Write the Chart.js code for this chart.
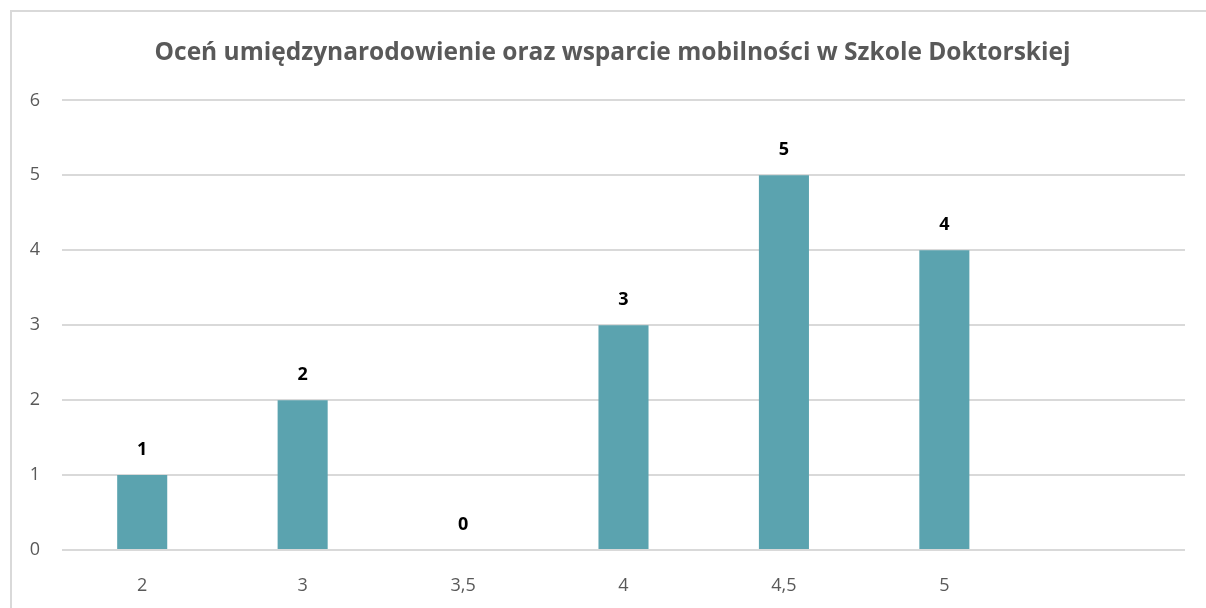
<!DOCTYPE html>
<html>
<head>
<meta charset="utf-8">
<script src="https://cdn.jsdelivr.net/npm/chart.js@4"></script>
<style>
  html, body { margin:0; padding:0; background:#fff; overflow:hidden; }
  .wrap { position:relative; width:1206px; height:608px; }
  .frame { position:absolute; left:10px; top:10px; width:1300px; height:700px; border-left:2px solid #d9d9d9; border-top:2px solid #d9d9d9; }
  canvas { position:absolute; left:0; top:0; }
</style>
</head>
<body>
<div class="wrap">
  <div class="frame"></div>
  <canvas id="chart" width="1206" height="608"></canvas>
</div>
<script>
const chartTitle = 'Oceń umiędzynarodowienie oraz wsparcie mobilności w Szkole Doktorskiej';
const categories = ['2', '3', '3,5', '4', '4,5', '5', ''];
const counts = [1, 2, 0, 3, 5, 4, null];
const yTicks = [0, 1, 2, 3, 4, 5, 6];

const barColor = '#5BA3AF';
const gray = '#595959';
const font = '"Open Sans", "DejaVu Sans", sans-serif';

// value labels above bars
const valueLabels = {
  id: 'valueLabels',
  afterDatasetsDraw(chart) {
    const ctx = chart.ctx;
    const meta = chart.getDatasetMeta(0);
    ctx.save();
    ctx.font = 'bold 18px ' + font;
    ctx.fillStyle = '#000';
    ctx.textAlign = 'center';
    ctx.textBaseline = 'middle';
    meta.data.forEach((bar, i) => {
      const v = counts[i];
      if (v === null || v === undefined) return;
      ctx.fillText(String(v), bar.x, bar.y - 25);
    });
    ctx.restore();
  }
};

// title sits a bit right of the canvas centre in the original
const titleShift = {
  id: 'titleShift',
  afterLayout(chart) {
    const t = chart.titleBlock;
    if (t) { t.left += 15; t.right += 15; }
  }
};

new Chart(document.getElementById('chart'), {
  type: 'bar',
  data: {
    labels: categories,
    datasets: [{ data: counts, backgroundColor: barColor, borderWidth: 0, categoryPercentage: 1, barPercentage: 0.312 }]
  },
  options: {
    responsive: false,
    animation: false,
    layout: { padding: { left: 10, right: 21, top: 0, bottom: 0 } },
    plugins: {
      legend: { display: false },
      tooltip: { enabled: false },
      title: {
        display: true,
        text: chartTitle,
        color: gray,
        font: { family: font, size: 24.5, weight: 'bold' },
        padding: { top: 38, bottom: 33 }
      }
    },
    scales: {
      x: {
        grid: { display: false },
        border: { display: false },
        ticks: { color: gray, font: { family: font, size: 18 }, padding: 17, maxRotation: 0 },
        afterFit: s => { s.height = 58; }
      },
      y: {
        min: 0, max: 6,
        afterBuildTicks: s => { s.ticks = yTicks.map(v => ({ value: v })); },
        grid: { color: '#d9d9d9', lineWidth: 2, drawTicks: false },
        border: { display: false },
        ticks: { color: gray, font: { family: font, size: 18 }, padding: 22 },
        afterFit: s => { s.width = 52; }
      }
    }
  },
  plugins: [valueLabels, titleShift]
});
</script>
</body>
</html>
